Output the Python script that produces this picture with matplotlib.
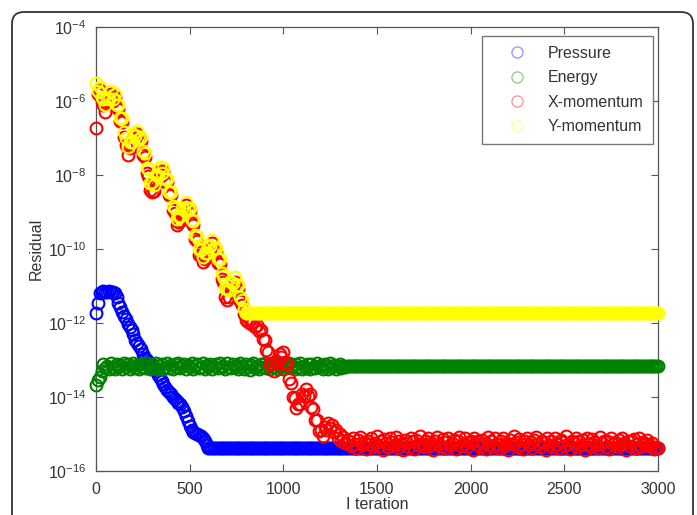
import numpy as np
import matplotlib
matplotlib.use("Agg")
import matplotlib.pyplot as plt
from matplotlib.lines import Line2D
from matplotlib.patches import FancyBboxPatch

# residuals, stored as log10 values, one every 10 iterations
STEP = 10

pressure_log = [
    -11.74, -11.47, -11.20, -11.15, -11.14, -11.16, -11.15, -11.14, -11.16, -11.15,
    -11.20, -11.30, -11.45, -11.58, -11.70, -11.80, -11.90, -12.02, -12.12, -12.20,
    -12.30, -12.45, -12.55, -12.62, -12.70, -12.85, -12.95, -13.00, -13.05, -13.10,
    -13.15, -13.22, -13.30, -13.40, -13.48, -13.58, -13.65, -13.72, -13.80, -13.86,
    -13.92, -14.00, -14.05, -14.10, -14.15, -14.20, -14.28, -14.38, -14.50, -14.65,
    -14.78, -14.88, -14.95, -14.98, -15.00, -15.02, -15.05, -15.12, -15.20, -15.30,
    -15.38,
] + [-15.38] * 240

energy_log = [-13.68, -13.55, -13.45, -13.30] + [
    -13.10, -13.22, -13.15, -13.25, -13.08, -13.18, -13.23, -13.10, -13.20, -13.14,
    -13.24, -13.09, -13.19, -13.12, -13.25, -13.16, -13.08, -13.21, -13.13, -13.24,
    -13.10, -13.18, -13.22, -13.09, -13.17, -13.25, -13.12, -13.20, -13.08, -13.23,
    -13.15, -13.10, -13.24, -13.18, -13.09, -13.21, -13.14, -13.25, -13.11, -13.19,
    -13.08, -13.22, -13.16, -13.10, -13.24, -13.13, -13.20, -13.09, -13.25, -13.15,
    -13.11, -13.22, -13.18, -13.08, -13.23, -13.14, -13.20, -13.10, -13.24, -13.16,
    -13.12, -13.21, -13.09, -13.19, -13.15, -13.25, -13.07, -13.18, -13.22, -13.11,
    -13.20, -13.13, -13.24, -13.09, -13.17, -13.23, -13.10, -13.19, -13.26, -13.14,
    -13.08, -13.21, -13.16, -13.24, -13.11, -13.19, -13.07, -13.22, -13.15, -13.25,
    -13.12, -13.18, -13.09, -13.23, -13.17, -13.10, -13.24, -13.14, -13.20, -13.08,
    -13.22, -13.16, -13.25, -13.11, -13.19, -13.09, -13.23, -13.15, -13.21, -13.12,
    -13.24, -13.10, -13.18, -13.22, -13.08, -13.20, -13.14, -13.25, -13.11, -13.17,
    -13.23, -13.09, -13.19, -13.13, -13.24, -13.16, -13.10, -13.21, -13.15, -13.18,
] + [-13.16] * 167

xmom_log = [
    # 0 .. 790, under the Y-momentum cluster
    -6.73, -5.80, -5.70, -6.00, -6.10, -6.30, -6.05, -6.00, -5.80, -6.00,
    -5.90, -6.15, -6.22, -6.55, -6.58, -6.98, -7.18, -7.45, -7.28, -7.25,
    -6.98, -7.02, -6.88, -7.08, -7.08, -7.45, -7.52, -7.95, -8.02, -8.40,
    -8.45, -8.42, -8.15, -8.12, -7.88, -8.00, -7.88, -8.18, -8.20, -8.55,
    -8.55, -8.95, -9.02, -9.35, -9.28, -9.25, -9.00, -9.02, -8.80, -8.98,
    -8.98, -9.30, -9.35, -9.72, -9.78, -10.15, -10.20, -10.35, -10.28, -10.22,
    -10.00, -10.00, -9.85, -10.05, -10.08, -10.38, -10.40, -10.80, -10.90, -11.30,
    -11.38, -11.30, -11.05, -11.02, -10.88, -11.05, -11.08, -11.40, -11.52, -11.75,
    # 800 .. 1340
    -11.92, -11.98, -11.92, -12.02, -11.98, -12.10, -12.05, -12.22, -12.20, -12.42,
    -12.45, -12.72, -12.78, -13.10, -13.12, -13.30, -13.05, -13.05, -12.85, -12.92,
    -12.78, -13.05, -13.12, -13.52, -13.62, -14.00, -14.02, -14.30, -14.18, -14.20,
    -13.92, -13.98, -13.78, -13.98, -13.92, -14.28, -14.32, -14.62, -14.62, -14.92,
    -14.88, -15.05, -14.82, -14.90, -14.70, -14.85, -14.75, -14.95, -14.88, -15.10,
    -15.00, -15.18, -15.08, -15.25, -15.15,
    # 1350 .. 3000
    -15.20, -15.32, -15.12, -15.26, -15.38, -15.15, -15.08, -15.30, -15.22, -15.40,
    -15.18, -15.28, -15.10, -15.35, -15.24, -15.06, -15.33, -15.20, -15.42, -15.14,
    -15.25, -15.36, -15.12, -15.22, -15.30, -15.08, -15.38, -15.18, -15.27, -15.44,
    -15.15, -15.24, -15.34, -15.10, -15.20, -15.40, -15.16, -15.30, -15.06, -15.26,
    -15.35, -15.20, -15.12, -15.32, -15.24, -15.42, -15.18, -15.09, -15.28, -15.36,
    -15.14, -15.22, -15.38, -15.10, -15.30, -15.25, -15.16, -15.40, -15.20, -15.07,
    -15.33, -15.26, -15.12, -15.36, -15.22, -15.18, -15.42, -15.10, -15.28, -15.20,
    -15.34, -15.15, -15.24, -15.40, -15.08, -15.30, -15.20, -15.36, -15.12, -15.26,
    -15.38, -15.18, -15.10, -15.32, -15.24, -15.44, -15.16, -15.28, -15.06, -15.22,
    -15.35, -15.14, -15.26, -15.40, -15.20, -15.12, -15.30, -15.22, -15.38, -15.16,
    -15.08, -15.28, -15.34, -15.18, -15.24, -15.42, -15.12, -15.30, -15.20, -15.36,
    -15.10, -15.26, -15.38, -15.15, -15.22, -15.32, -15.06, -15.28, -15.40, -15.18,
    -15.24, -15.12, -15.34, -15.20, -15.30, -15.16, -15.42, -15.10, -15.26, -15.36,
    -15.14, -15.22, -15.30, -15.38, -15.08, -15.25, -15.18, -15.34, -15.20, -15.40,
    -15.12, -15.28, -15.22, -15.36, -15.16, -15.30, -15.10, -15.24, -15.42, -15.18,
    -15.32, -15.20, -15.14, -15.38, -15.26, -15.10, -15.34, -15.22, -15.28, -15.16,
    -15.30, -15.36, -15.24, -15.40, -15.34, -15.38,
]

ymom_log = [
    -5.50, -5.72, -5.62, -5.90, -5.95, -6.12, -5.92, -5.95, -5.72, -5.95,
    -5.82, -6.10, -6.12, -6.45, -6.45, -6.85, -7.00, -7.25, -7.10, -7.12,
    -6.88, -6.95, -6.80, -7.02, -6.98, -7.35, -7.40, -7.80, -7.85, -8.22,
    -8.20, -8.28, -8.00, -8.02, -7.78, -7.95, -7.80, -8.10, -8.10, -8.45,
    -8.45, -8.85, -8.90, -9.20, -9.10, -9.12, -8.88, -8.95, -8.72, -8.92,
    -8.88, -9.22, -9.25, -9.62, -9.65, -10.00, -10.02, -10.22, -10.12, -10.10,
    -9.88, -9.92, -9.75, -9.98, -9.98, -10.28, -10.28, -10.65, -10.72, -11.05,
    -11.08, -11.10, -10.88, -10.92, -10.75, -10.98, -10.98, -11.30, -11.38, -11.62,
    -11.73,
] + [-11.73] * 220

series_names = ["Pressure", "Energy", "X-momentum", "Y-momentum"]
series_colors = ["#0000ff", "#008000", "#ff0000", "#ffff00"]
series_logs = [pressure_log, energy_log, xmom_log, ymom_log]

x_ticks = [0, 500, 1000, 1500, 2000, 2500, 3000]
y_ticks = [1e-16, 1e-14, 1e-12, 1e-10, 1e-8, 1e-6, 1e-4]

plt.rcParams["font.family"] = ["Liberation Sans", "DejaVu Sans"]
plt.rcParams["mathtext.default"] = "regular"
plt.rcParams["axes.unicode_minus"] = False
plt.rcParams["font.size"] = 11.5

text_color = "#333333"
axis_color = "#555555"

fig = plt.figure(figsize=(6.97, 5.15), dpi=100)
ax = fig.add_axes([96 / 697, 44 / 515, 562 / 697, 444 / 515])

for name, color, logs in zip(series_names, series_colors, series_logs):
    iters = np.arange(len(logs)) * STEP
    ax.semilogy(iters, 10.0 ** np.array(logs), "o", mfc="none", mec=color,
                ms=8.5, mew=1.5, clip_on=False, zorder=3)

ax.set_xlim(0, 3000)
ax.set_ylim(1e-16, 1e-4)
ax.set_xticks(x_ticks)
ax.set_yticks(y_ticks)
ax.minorticks_off()
ax.tick_params(direction="in", length=5, top=True, right=True,
               colors=axis_color, labelcolor=text_color, labelsize=11.5)
ax.tick_params(axis="y", pad=7)
ax.tick_params(axis="x", pad=8)
for sp in ax.spines.values():
    sp.set_color(axis_color)
    sp.set_linewidth(0.9)

ax.set_xlabel("I teration", color=text_color, labelpad=0)
ax.set_ylabel("Residual", color=text_color, labelpad=3)

handles = [Line2D([], [], ls="none", marker="o", mfc="none", mec=c, ms=8, mew=1.0, alpha=0.4)
           for c in series_colors]
leg = ax.legend(handles, series_names, loc="upper right",
                bbox_to_anchor=((653 - 96) / 562, (471 - 36) / 444),
                borderaxespad=0, fancybox=False, edgecolor="#777777",
                handlelength=3.1, handletextpad=0.39, borderpad=0.6,
                labelspacing=0.6, fontsize=11.5, framealpha=1)
for t in leg.get_texts():
    t.set_color(text_color)

# outer rounded frame around the figure
frame = FancyBboxPatch((12, -40), 681, 543, boxstyle="round,pad=0,rounding_size=12",
                       transform=None, fill=False, edgecolor="#333333", linewidth=1.3)
fig.add_artist(frame)

fig.savefig("out.png", dpi=100)
